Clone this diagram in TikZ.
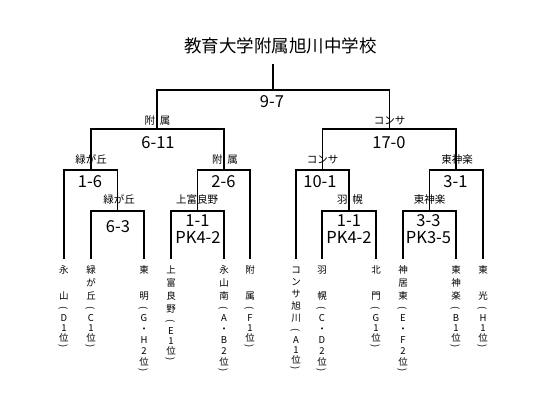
\documentclass[tikz,border=0pt]{standalone}
\usepackage{fontspec}
\setmainfont{Noto Sans CJK JP}
\tikzset{
  txt/.style={inner sep=0pt, text height=0.88em, text depth=0.12em, anchor=center},
  ttl/.style={txt, font=\fontsize{17.5}{20}\selectfont},
  score/.style={txt, font=\fontsize{16.5}{19}\selectfont},
  lbl/.style={txt, font=\fontsize{10.5}{12}\selectfont},
  lt/.style={txt, font=\fontsize{9.5}{11}\selectfont},
  br/.style={line width=1.7pt, line cap=rect}
}
% #1 id, #2 x, #3 number of name chars, #4 name list, #5 name pitch, #6 suffix list, #7 suffix pitch
\newcommand\leafcol[7]{%
  \foreach \c [count=\i] in {#4}
    \node[lt] (#1n\i) at (#2,{270+#5*(\i-1)}) {\c};
  \pgfmathsetmacro\py{270+#5*(#3-1)+12}
  \node[lt,rotate=-90] (#1o) at (#2,\py) {(};
  \foreach \c [count=\i] in {#6}{
    \node[lt] (#1s\i) at (#2,{\py+10+#7*(\i-1)}) {\c};
    \xdef\lastm{\i}}
  \node[lt,rotate=-90] (#1c) at (#2,{\py+10+#7*(\lastm-1)+8}) {)};
}
\begin{document}
\begin{tikzpicture}[x=1pt,y=-1pt]
\fill[white] (0,0) rectangle (550,409);
\useasboundingbox (0,0) rectangle (550,409);

\node[ttl] (title) at (280.5,49) {教育大学附属旭川中学校};

% leaf tops
\coordinate (L1) at (64,258);
\coordinate (L2) at (91,258);
\coordinate (L3) at (144,258);
\coordinate (L4) at (171,258);
\coordinate (L5) at (224,258);
\coordinate (L6) at (250,258);
\coordinate (L7) at (296,258);
\coordinate (L8) at (322,258);
\coordinate (L9) at (376,258);
\coordinate (L10) at (403,258);
\coordinate (L11) at (456,258);
\coordinate (L12) at (483,258);
% match bars
\coordinate (Ra) at (117.5,211);
\coordinate (Rb) at (197.5,211);
\coordinate (Rc) at (349,211);
\coordinate (Rd) at (429.5,211);
\coordinate (Q1) at (90.75,170);
\coordinate (Q2) at (223.75,170);
\coordinate (Q3) at (322.5,170);
\coordinate (Q4) at (456.25,170);
\coordinate (SL) at (157.25,129);
\coordinate (SR) at (389.4,129);
\coordinate (F) at (273.3,90);
\coordinate (top) at (273.3,65);

% bracket
\draw[br] (L2) |- (Ra) -| (L3);
\draw[br] (L4) |- (Rb) -| (L5);
\draw[br] (L8) |- (Rc) -| (L9);
\draw[br] (L10) |- (Rd) -| (L11);
\draw[br] (L1) |- (Q1) -| (Ra);
\draw[br] (Rb) |- (Q2) -| (L6);
\draw[br] (L7) |- (Q3) -| (Rc);
\draw[br] (Rd) |- (Q4) -| (L12);
\draw[br] (Q1) |- (SL) -| (Q2);
\draw[br] (Q3) |- (SR) -| (Q4);
\draw[br] (SL) |- (F) -| (SR);
\draw[br] (top) -- (F);

% scores
\node[score] (sF) at (272,104) {9-7};
\node[score] (sSL) at (158,145) {6-11};
\node[score] (sSR) at (389,145) {17-0};
\node[score] (sQ1) at (90,184) {1-6};
\node[score] (sQ2) at (223.5,184) {2-6};
\node[score] (sQ3) at (320,184) {10-1};
\node[score] (sQ4) at (455.5,184) {3-1};
\node[score] (sRa) at (118,229) {6-3};
\node[score] (sRb1) at (197.5,222.5) {1-1};
\node[score] (sRb2) at (198,240) {PK4-2};
\node[score] (sRc1) at (349,222.5) {1-1};
\node[score] (sRc2) at (349,240) {PK4-2};
\node[score] (sRd1) at (428.5,222.5) {3-3};
\node[score] (sRd2) at (428.5,240) {PK3-5};

% winner labels
\node[lbl] (wSL) at (157.5,121) {附\hspace{5pt}属};
\node[lbl] (wSR) at (389.5,120.5) {コンサ};
\node[lbl] (wQ1) at (91,159.5) {緑が丘};
\node[lbl] (wQ2) at (225,159.5) {附\hspace{5pt}属};
\node[lbl] (wQ3) at (322.5,159.5) {コンサ};
\node[lbl] (wQ4) at (457,159.5) {東神楽};
\node[lbl] (wRa) at (119,200) {緑が丘};
\node[lbl] (wRb) at (197,200) {上富良野};
\node[lbl] (wRc) at (350,200) {羽\hspace{5pt}幌};
\node[lbl] (wRd) at (429.5,200) {東神楽};

% team names (vertical)
\leafcol{a}{64}{3}{永,　,山}{13}{D,1,位}{10}
\leafcol{b}{91}{3}{緑,が,丘}{13}{C,1,位}{10}
\leafcol{c}{144}{3}{東,　,明}{13}{G,・,H,2,位}{11}
\leafcol{d}{171}{4}{上,富,良,野}{13}{E,1,位}{10}
\leafcol{e}{224}{3}{永,山,南}{13}{A,・,B,2,位}{11}
\leafcol{f}{250}{3}{附,　,属}{13}{F,1,位}{10}
\leafcol{g}{296}{5}{コ,ン,サ,旭,川}{12}{A,1,位}{10}
\leafcol{h}{322}{3}{羽,　,幌}{13}{C,・,D,2,位}{11}
\leafcol{i}{376}{3}{北,　,門}{13}{G,1,位}{10}
\leafcol{j}{403}{3}{神,居,東}{13}{E,・,F,2,位}{11}
\leafcol{k}{456}{3}{東,神,楽}{13}{B,1,位}{10}
\leafcol{l}{483}{3}{東,　,光}{13}{H,1,位}{10}
\end{tikzpicture}
\end{document}
